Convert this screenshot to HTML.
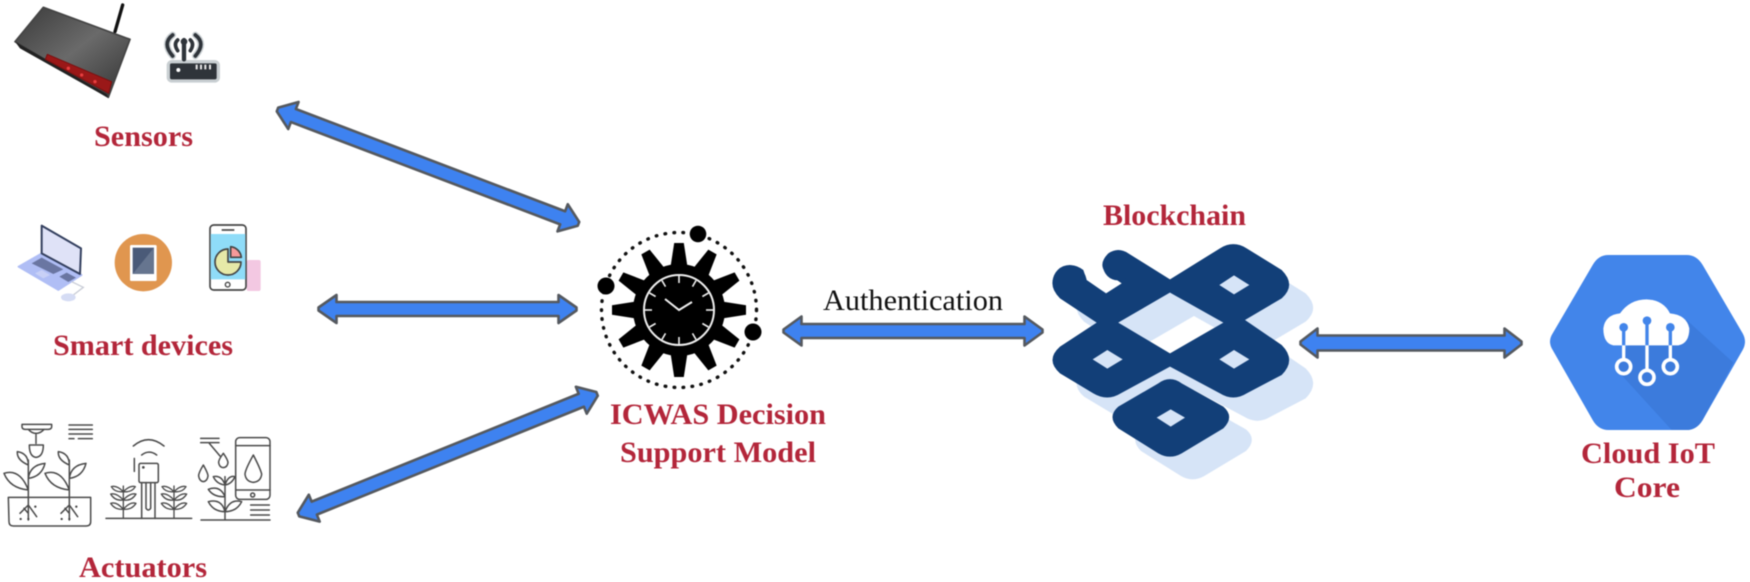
<!DOCTYPE html>
<html lang="en">
<head>
<meta charset="utf-8">
<title>ICWAS Decision Support Model</title>
<style>
html,body{margin:0;padding:0;background:#fff;width:1750px;height:582px;overflow:hidden}
svg{display:block;position:absolute;left:0;top:0;filter:blur(0.55px)}
.lbl{font-family:"Liberation Serif",serif;font-weight:bold;font-size:30px;fill:#b3263a}
.auth{font-family:"Liberation Serif",serif;font-size:30px;fill:#111}
.arrow{fill:#3e82f0;stroke:#55595f;stroke-width:2.6;stroke-linejoin:round}
.ln{fill:none;stroke:#4a4a4a;stroke-width:4.5;stroke-linecap:round;stroke-linejoin:round}
</style>
</head>
<body>
<svg width="1750" height="582" viewBox="0 0 1750 582" xmlns="http://www.w3.org/2000/svg">
<defs>
<linearGradient id="rt" x1="0" y1="0" x2="1" y2="1">
<stop offset="0" stop-color="#3a3a3a"/><stop offset=".5" stop-color="#6a6a6a"/><stop offset="1" stop-color="#333"/>
</linearGradient>
<g id="tooth"><path d="M-8.5,-43 L-4.8,-67 L4.8,-67 L8.5,-43 Z" fill="#000"/></g>
<g id="tick"><path d="M0,-34 V-27" stroke="#eee" stroke-width="1.6"/></g>
<g id="bigplant">
<path class="ln" d="M85,150 V330 M85,240 Q30,235 12,190 Q60,175 85,240 Z M85,205 Q90,165 135,160 Q125,200 85,205 Z M85,165 Q50,150 52,125 Q85,130 85,165 Z M85,285 L60,310 M85,285 L110,320 M72,295 L85,310"/>
<circle cx="62" cy="327" r="3.5" fill="#444"/><circle cx="85" cy="327" r="3.5" fill="#444"/><circle cx="106" cy="290" r="3.5" fill="#444"/>
</g>
<g id="smallplant">
<path class="ln" d="M0,228 V325 M0,245 Q-20,225 -36,230 Q-25,248 0,245 Z M0,245 Q20,225 36,230 Q25,248 0,245 Z M0,270 Q-20,248 -38,252 Q-25,274 0,270 Z M0,270 Q20,248 38,252 Q25,274 0,270 Z M0,298 Q-20,274 -38,280 Q-25,300 0,298 Z M0,298 Q20,274 38,280 Q25,300 0,298 Z" style="stroke-width:4"/>
</g>
<path id="bc" fill-rule="evenodd" d="M170,150 L228,190 L275,160 L225,125 Q205,100 235,70 Q265,50 295,70 L420,148 L570,55 Q610,30 650,55 L755,120 Q800,165 755,205 L645,270 L755,345 Q800,390 755,435 L650,490 Q610,515 570,490 L420,410 L272,490 Q232,515 190,490 L90,430 Q45,390 90,350 L200,278 L90,205 Q50,165 80,125 Q120,90 160,120 Z M420,188 L265,278 L420,370 L580,278 Z"/>
<path id="bd" d="M385,460 Q420,435 455,460 L580,530 Q615,560 580,595 L455,670 Q420,690 385,670 L265,595 Q230,560 265,530 Z"/>
</defs>

<!-- Router -->
<g transform="scale(.33333)">
<path d="M345,95 L368,15" stroke="#111" stroke-width="10" stroke-linecap="round"/>
<path d="M130,22 L390,118 L325,292 L45,125 Z" fill="url(#rt)" stroke="#444" stroke-width="5" stroke-linejoin="round"/>
<path d="M45,125 L320,282 L325,294 L60,145 Z" fill="#222"/>
<path d="M142,163 L335,245 L326,280 L136,178 Z" fill="#9a1818" stroke="#7a1010" stroke-width="3" stroke-linejoin="round"/>
<circle cx="205" cy="205" r="5" fill="#e84040"/><circle cx="245" cy="225" r="5" fill="#e84040"/><circle cx="285" cy="245" r="5" fill="#e84040"/>
<!-- small router -->
<g fill="none" stroke="#c9cfd2" stroke-width="20" stroke-linecap="round">
<path d="M518,105 Q485,130 518,168"/><path d="M586,105 Q619,130 586,168"/><rect x="510" y="190" width="140" height="48" rx="6"/>
</g>
<g fill="none" stroke="#2f343a" stroke-width="11" stroke-linecap="round">
<path d="M518,105 Q485,130 518,168"/><path d="M586,105 Q619,130 586,168"/><path d="M533,120 Q520,132 533,152"/><path d="M571,120 Q584,132 571,152"/>
<path d="M552,120 V178" stroke-width="13"/>
</g>
<circle cx="552" cy="125" r="10" fill="#2f343a"/>
<rect x="510" y="190" width="140" height="48" rx="5" fill="#2f343a"/>
<circle cx="535" cy="210" r="6" fill="#fff"/>
<path d="M590,194 V208 M603,194 V208 M616,194 V208 M630,194 V208" stroke="#e8e8e8" stroke-width="6"/>
</g>

<!-- Smart devices -->
<g transform="translate(0,210) scale(.33333)">
<path d="M55,170 L125,130 L245,195 L175,240 Z" fill="#b0bef5" stroke="#b0bef5" stroke-width="5" stroke-linejoin="round"/>
<path d="M125,47 L243,115 L240,192 L125,130 Z" fill="#dfe2f7" stroke="#34405f" stroke-width="6" stroke-linejoin="round"/>
<path d="M95,160 L125,143 L190,178 L160,192 Z" fill="#6a76a2"/>
<path d="M178,200 L200,188 L228,203 L205,216 Z" fill="#6a76a2"/>
<path d="M105,190 L125,180 L150,195 L130,205 Z" fill="#c8d0f6"/>
<path d="M215,215 L250,232 L220,255" fill="none" stroke="#c8ccd6" stroke-width="4"/>
<ellipse cx="205" cy="262" rx="22" ry="12" fill="#d5dcf4"/>
<circle cx="430" cy="158" r="86" fill="#e0964f"/>
<rect x="390" y="105" width="80" height="108" rx="4" fill="#fff"/>
<rect x="398" y="113" width="64" height="79" fill="#4a5a78"/>
<path d="M462,113 V192 H398 Z" fill="#66758f"/>
<rect x="740" y="150" width="42" height="93" rx="6" fill="#f3c8e2"/>
<rect x="630" y="45" width="108" height="195" rx="11" fill="#fff" stroke="#444" stroke-width="5"/>
<rect x="632" y="72" width="104" height="136" fill="#8fdcf8"/>
<path d="M665,60 H703" stroke="#444" stroke-width="5"/>
<circle cx="683" cy="224" r="7" fill="none" stroke="#444" stroke-width="4"/>
<path d="M684,117 A39,39 0 1 0 723,156 L684,156 Z" fill="#e6e9a8" stroke="#444" stroke-width="5" stroke-linejoin="round"/>
<path d="M692,110 A36,36 0 0 1 724,142 L692,142 Z" fill="#f59a9a" stroke="#444" stroke-width="5" stroke-linejoin="round"/>
</g>

<!-- Actuators -->
<g transform="translate(0,410) scale(.33333)">
<path class="ln" d="M25,262 H272 V335 Q272,348 258,348 H40 Q27,348 27,335 Z"/>
<path class="ln" d="M66,43 H155 V50 Q155,58 145,58 H75 Q66,58 66,50 Z M85,58 Q95,70 108,70 Q122,70 132,58 M108,70 V100 M88,105 H130 Q130,140 108,142 Q88,140 88,105 Z"/>
<use href="#bigplant"/>
<use href="#bigplant" x="123"/>
<path class="ln" d="M207,45 H277 M207,58 H277 M207,72 H277 M207,86 H222 M235,86 H277"/>
<path class="ln" d="M318,325 H575 M400,108 Q445,70 492,108 M425,135 Q447,118 470,135"/>
<rect class="ln" x="417" y="160" width="58" height="58" rx="5"/>
<path class="ln" d="M403,145 V184"/>
<circle cx="430" cy="172" r="4" fill="#444"/>
<path class="ln" d="M425,218 V325 M465,218 V325 M438,218 V295 Q445,305 452,295 V218"/>
<use href="#smallplant" x="370"/>
<use href="#smallplant" x="522"/>
<path class="ln" d="M603,330 H810 M675,200 V330 M675,305 Q640,305 625,275 Q665,265 675,305 Z M675,305 Q710,305 725,275 Q690,265 675,305 Z M675,260 Q640,262 625,238 Q660,225 675,260 Z M675,225 Q650,222 640,200 Q665,195 675,225 Z M675,225 Q695,222 705,200 Q685,195 675,225 Z"/>
<rect x="707" y="83" width="103" height="185" rx="12" fill="#fff" stroke="#4a4a4a" stroke-width="4.5"/>
<path class="ln" d="M707,107 H810 M707,240 H810 M760,135 Q735,180 735,193 Q738,215 760,217 Q782,215 785,193 Q783,180 760,135 Z M670,130 Q655,150 656,158 Q658,172 670,173 Q682,172 684,158 Q684,150 670,130 Z M610,165 Q595,190 596,198 Q598,213 610,215 Q622,213 624,198 Q624,190 610,165 Z M602,85 H657 M602,98 H657 M628,100 L660,138 M752,285 H808 M752,300 H808 M752,315 H808"/>
<circle cx="758" cy="255" r="6" class="ln"/>
</g>

<!-- Arrows -->
<path class="arrow" transform="translate(277.5,109.5) rotate(20.8)" d="M0,-2 L17,-14.5 L17,-7 L305,-7 L305,-14.5 L322,-2 L322,2 L305,14.5 L305,7 L17,7 L17,14.5 L0,2 Z"/>
<path class="arrow" transform="translate(318.5,309)" d="M0,-1.5 L18,-14 L18,-7 L240,-7 L240,-14 L258,-1.5 L258,1.5 L240,14 L240,7 L18,7 L18,14 L0,1.5 Z"/>
<path class="arrow" transform="translate(298.5,514.5) rotate(-22)" d="M0,-2 L17,-14.5 L17,-7 L305,-7 L305,-14.5 L322,-2 L322,2 L305,14.5 L305,7 L17,7 L17,14.5 L0,2 Z"/>
<path class="arrow" transform="translate(783.5,331)" d="M0,-1.5 L18,-14.5 L18,-7 L241,-7 L241,-14.5 L259,-1.5 L259,1.5 L241,14.5 L241,7 L18,7 L18,14.5 L0,1.5 Z"/>

<!-- Gear -->
<g transform="translate(679,310)">
<circle r="77.5" fill="none" stroke="#111" stroke-width="3.4" stroke-dasharray="0.6 8.4" stroke-linecap="round"/>
<circle r="46" fill="#000"/>
<use href="#tooth"/><use href="#tooth" transform="rotate(30)"/><use href="#tooth" transform="rotate(60)"/><use href="#tooth" transform="rotate(90)"/><use href="#tooth" transform="rotate(120)"/><use href="#tooth" transform="rotate(150)"/><use href="#tooth" transform="rotate(180)"/><use href="#tooth" transform="rotate(210)"/><use href="#tooth" transform="rotate(240)"/><use href="#tooth" transform="rotate(270)"/><use href="#tooth" transform="rotate(300)"/><use href="#tooth" transform="rotate(330)"/>
<circle r="35" fill="#000" stroke="#eee" stroke-width="2"/>
<use href="#tick"/><use href="#tick" transform="rotate(30)"/><use href="#tick" transform="rotate(60)"/><use href="#tick" transform="rotate(90)"/><use href="#tick" transform="rotate(120)"/><use href="#tick" transform="rotate(150)"/><use href="#tick" transform="rotate(180)"/><use href="#tick" transform="rotate(210)"/><use href="#tick" transform="rotate(240)"/><use href="#tick" transform="rotate(270)"/><use href="#tick" transform="rotate(300)"/><use href="#tick" transform="rotate(330)"/>
<path d="M-14,-11 L0,0 L13,-8" fill="none" stroke="#eee" stroke-width="2"/>
</g>
<circle cx="698" cy="234" r="8.3" fill="#000"/>
<circle cx="606" cy="286" r="8.5" fill="#000"/>
<circle cx="753" cy="332" r="8.5" fill="#000"/>

<!-- Blockchain -->
<g transform="translate(1030,230) scale(.33333)">
<use href="#bc" fill="#d6e4f7" transform="translate(72,70)"/>
<use href="#bd" fill="#d6e4f7" transform="translate(68,68)"/>
<use href="#bc" fill="#123f78"/>
<circle cx="119" cy="156" r="51" fill="#123f78"/>
<circle cx="264" cy="106" r="45" fill="#123f78"/>
<path d="M420,188 L265,278 L358,325 L495,250 Z" fill="#d6e4f7"/>
<use href="#bd" fill="#123f78"/>
<path d="M612,136 L658,165 L612,193 L568,165 Z M232,360 L278,388 L232,416 L188,388 Z M612,360 L658,388 L612,416 L568,388 Z M422,538 L465,563 L422,590 L380,563 Z" fill="#d6e4f7"/>
</g>

<path class="arrow" transform="translate(1300.5,343)" d="M0,-1.5 L17,-14.5 L17,-7.5 L204,-7.5 L204,-14.5 L221,-1.5 L221,1.5 L204,14.5 L204,7.5 L17,7.5 L17,14.5 L0,1.5 Z"/>

<!-- Cloud IoT -->
<g transform="translate(1530,240) scale(.33333)">
<path d="M235,45 H470 Q500,45 518,75 L638,280 Q652,305 638,330 L518,540 Q500,570 470,570 H235 Q205,570 188,540 L68,330 Q52,305 68,280 L188,75 Q205,45 235,45 Z" fill="#4285ea"/>
<path d="M470,240 L610,368 L518,540 Q500,570 470,570 H425 L270,400 L290,320 Z" fill="#3c7bdc"/>
<path d="M250,316 Q220,310 220,265 Q225,225 270,220 Q300,178 350,178 Q400,180 420,220 Q470,225 478,265 Q478,310 445,316 Z" fill="#fff"/>
<path d="M281,262 V316 M351,242 V316 M421,262 V316" stroke="#4285ea" stroke-width="10"/>
<path d="M281,316 V360 M351,316 V392 M421,316 V360" stroke="#fff" stroke-width="10"/>
<circle cx="281" cy="262" r="13" fill="#4285ea"/><circle cx="351" cy="242" r="13" fill="#4285ea"/><circle cx="421" cy="262" r="13" fill="#4285ea"/>
<circle cx="281" cy="380" r="21" fill="#3c7bdc" stroke="#fff" stroke-width="11"/>
<circle cx="351" cy="412" r="21" fill="#3c7bdc" stroke="#fff" stroke-width="11"/>
<circle cx="421" cy="380" r="21" fill="#3c7bdc" stroke="#fff" stroke-width="11"/>
</g>

<!-- Labels -->
<text class="lbl" x="94" y="146" textLength="99" lengthAdjust="spacingAndGlyphs">Sensors</text>
<text class="lbl" x="53" y="355" textLength="180" lengthAdjust="spacingAndGlyphs">Smart devices</text>
<text class="lbl" x="79" y="577" textLength="128" lengthAdjust="spacingAndGlyphs">Actuators</text>
<text class="lbl" x="610" y="424" textLength="216" lengthAdjust="spacingAndGlyphs">ICWAS Decision</text>
<text class="lbl" x="620" y="462" textLength="196" lengthAdjust="spacingAndGlyphs">Support Model</text>
<text class="lbl" x="1103" y="225" textLength="143" lengthAdjust="spacingAndGlyphs">Blockchain</text>
<text class="lbl" x="1581" y="463" textLength="134" lengthAdjust="spacingAndGlyphs">Cloud IoT</text>
<text class="lbl" x="1614" y="497" textLength="66" lengthAdjust="spacingAndGlyphs">Core</text>
<text class="auth" x="823" y="310" textLength="180" lengthAdjust="spacingAndGlyphs">Authentication</text>
</svg>
</body>
</html>
